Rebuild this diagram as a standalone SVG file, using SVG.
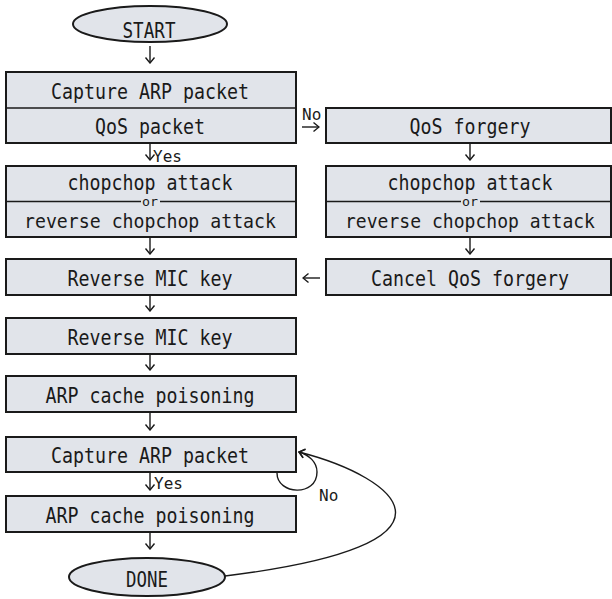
<svg xmlns="http://www.w3.org/2000/svg" width="612" height="599" viewBox="0 0 612 599">
  <style>
    .bg { fill: #ffffff; }
    .shape { fill: #e1e4ea; stroke: #1a1a1a; stroke-width: 2; }
    .div { stroke: #1a1a1a; stroke-width: 1.6; fill: none; }
    .lbl { font-family: "DejaVu Sans Mono", "Liberation Mono", monospace; font-size: 21px; fill: #1a1a1a; text-anchor: middle; }
    .lbl-long { font-size: 20px; }
    .small { font-family: "DejaVu Sans Mono", "Liberation Mono", monospace; font-size: 16px; fill: #1a1a1a; }
    .tiny { font-family: "DejaVu Sans Mono", "Liberation Mono", monospace; font-size: 12px; fill: #1a1a1a; text-anchor: middle; }
    .conn { stroke: #1a1a1a; stroke-width: 1.4; fill: none; marker-end: url(#arrow); }
  </style>
  <defs>
    <marker id="arrow" viewBox="-7 -6 8 12" refX="0" refY="0" markerUnits="userSpaceOnUse" markerWidth="8" markerHeight="12" orient="auto">
      <path d="M-5.5,-4.5 L0,0 L-5.5,4.5" fill="none" stroke="#1a1a1a" stroke-width="1.4"/>
    </marker>
  </defs>
  <rect class="bg" x="0" y="0" width="612" height="599"/>

  <!-- left column -->
  <g id="start">
    <ellipse class="shape" cx="150" cy="24" rx="77" ry="18"/>
    <text class="lbl" x="149" y="38" textLength="53" lengthAdjust="spacingAndGlyphs">START</text>
  </g>

  <g id="capture-qos">
    <rect class="shape" x="6" y="72" width="290" height="71"/>
    <line class="div" x1="6" y1="108" x2="296" y2="108"/>
    <text class="lbl" x="150" y="99" textLength="198" lengthAdjust="spacingAndGlyphs">Capture ARP packet</text>
    <text class="lbl" x="150" y="134" textLength="110" lengthAdjust="spacingAndGlyphs">QoS packet</text>
  </g>

  <g id="chopchop-left">
    <rect class="shape" x="6" y="166" width="290" height="71"/>
    <line class="div" x1="6" y1="201.5" x2="141" y2="201.5"/>
    <line class="div" x1="160" y1="201.5" x2="296" y2="201.5"/>
    <text class="lbl" x="150" y="190" textLength="165" lengthAdjust="spacingAndGlyphs">chopchop attack</text>
    <text class="tiny" x="150" y="206" textLength="16" lengthAdjust="spacingAndGlyphs">or</text>
    <text class="lbl lbl-long" x="150" y="228" textLength="252" lengthAdjust="spacingAndGlyphs">reverse chopchop attack</text>
  </g>

  <g id="reverse-mic-1">
    <rect class="shape" x="6" y="259" width="290" height="36"/>
    <text class="lbl" x="150" y="286" textLength="165" lengthAdjust="spacingAndGlyphs">Reverse MIC key</text>
  </g>

  <g id="reverse-mic-2">
    <rect class="shape" x="6" y="318" width="290" height="36"/>
    <text class="lbl" x="150" y="345" textLength="165" lengthAdjust="spacingAndGlyphs">Reverse MIC key</text>
  </g>

  <g id="arp-poison-1">
    <rect class="shape" x="6" y="376" width="290" height="36"/>
    <text class="lbl" x="150" y="403" textLength="209" lengthAdjust="spacingAndGlyphs">ARP cache poisoning</text>
  </g>

  <g id="capture-2">
    <rect class="shape" x="6" y="437" width="290" height="35"/>
    <text class="lbl" x="150" y="463" textLength="198" lengthAdjust="spacingAndGlyphs">Capture ARP packet</text>
  </g>

  <g id="arp-poison-2">
    <rect class="shape" x="6" y="496" width="290" height="36"/>
    <text class="lbl" x="150" y="523" textLength="209" lengthAdjust="spacingAndGlyphs">ARP cache poisoning</text>
  </g>

  <g id="done">
    <ellipse class="shape" cx="147" cy="577" rx="78" ry="19"/>
    <text class="lbl" x="147" y="587" textLength="42" lengthAdjust="spacingAndGlyphs">DONE</text>
  </g>

  <!-- right column -->
  <g id="qos-forgery">
    <rect class="shape" x="326" y="108" width="285" height="35"/>
    <text class="lbl" x="470" y="134" textLength="121" lengthAdjust="spacingAndGlyphs">QoS forgery</text>
  </g>

  <g id="chopchop-right">
    <rect class="shape" x="326" y="166" width="285" height="71"/>
    <line class="div" x1="326" y1="201.5" x2="461" y2="201.5"/>
    <line class="div" x1="480" y1="201.5" x2="611" y2="201.5"/>
    <text class="lbl" x="470" y="190" textLength="165" lengthAdjust="spacingAndGlyphs">chopchop attack</text>
    <text class="tiny" x="470" y="206" textLength="16" lengthAdjust="spacingAndGlyphs">or</text>
    <text class="lbl lbl-long" x="470" y="228" textLength="250" lengthAdjust="spacingAndGlyphs">reverse chopchop attack</text>
  </g>

  <g id="cancel-qos">
    <rect class="shape" x="326" y="259" width="285" height="36"/>
    <text class="lbl" x="470" y="286" textLength="198" lengthAdjust="spacingAndGlyphs">Cancel QoS forgery</text>
  </g>

  <!-- connectors -->
  <g id="connectors">
    <line class="conn" x1="150" y1="46" x2="150" y2="63"/>
    <line class="conn" x1="150" y1="144" x2="150" y2="160"/>
    <line class="conn" x1="150" y1="238" x2="150" y2="254"/>
    <line class="conn" x1="150" y1="296" x2="150" y2="311"/>
    <line class="conn" x1="150" y1="355" x2="150" y2="370"/>
    <line class="conn" x1="150" y1="413" x2="150" y2="430"/>
    <line class="conn" x1="150" y1="473" x2="150" y2="490"/>
    <line class="conn" x1="150" y1="533" x2="150" y2="549"/>

    <line class="conn" x1="470" y1="144" x2="470" y2="160"/>
    <line class="conn" x1="470" y1="238" x2="470" y2="254"/>

    <line class="conn" x1="302" y1="127" x2="319" y2="127"/>
    <line class="conn" x1="320" y1="278" x2="303" y2="278"/>

    <path class="conn" d="M277,473 C277,495 317,497 317,472 C317,462 309,455 299,452"/>
    <path class="conn" d="M225,576 C480,545 400,478 299,452"/>

    <text class="small" x="302" y="120">No</text>
    <text class="small" x="153" y="162">Yes</text>
    <text class="small" x="154" y="489">Yes</text>
    <text class="small" x="319" y="501">No</text>
  </g>
</svg>
